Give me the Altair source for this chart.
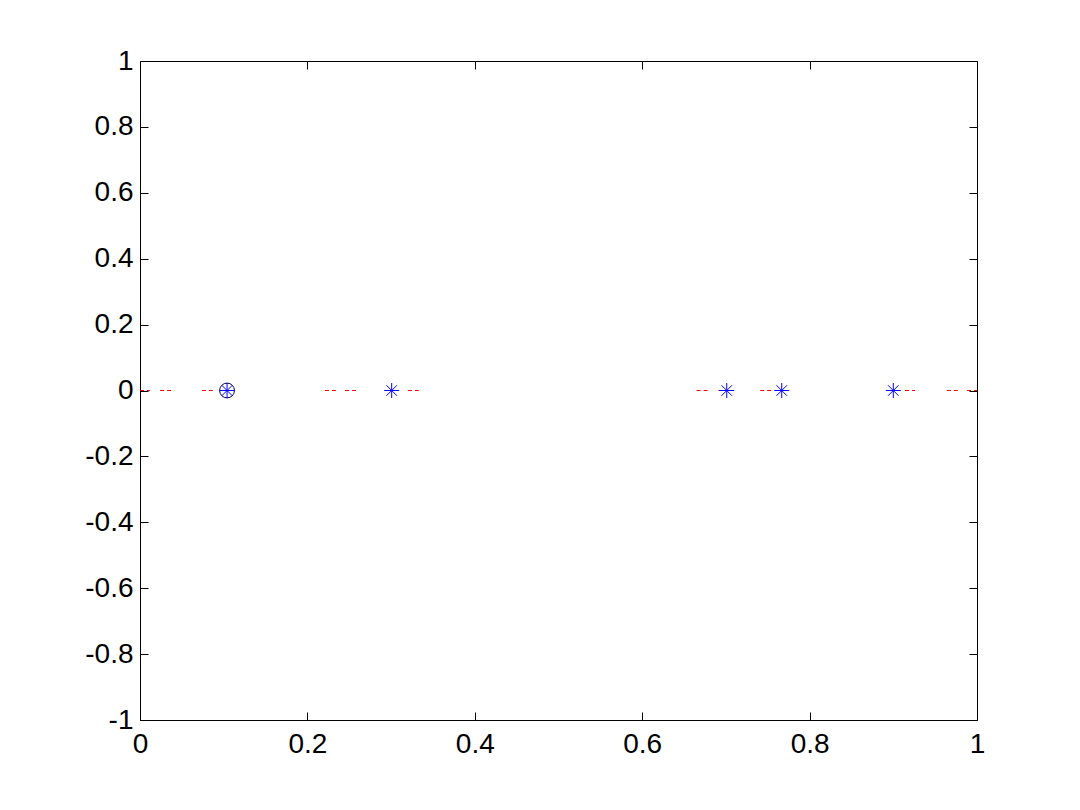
import altair as alt
import pandas as pd

# Red dashed pieces along y = 0 (start, end in data units)
dash_start = [0.000, 0.024, 0.074, 0.221, 0.245, 0.320, 0.665, 0.691, 0.741, 0.914, 0.964, 0.988]
dash_end   = [0.012, 0.038, 0.087, 0.235, 0.259, 0.335, 0.679, 0.697, 0.755, 0.926, 0.977, 1.000]

# Blue asterisk points
star_x = [0.104, 0.3007, 0.701, 0.7667, 0.900]
star_y = [0, 0, 0, 0, 0]

# Circle point
circle_x = [0.104]
circle_y = [0]

x_ticks = [0, 0.2, 0.4, 0.6, 0.8, 1]
y_ticks = [-1, -0.8, -0.6, -0.4, -0.2, 0, 0.2, 0.4, 0.6, 0.8, 1]

dash_df = pd.DataFrame({"x": dash_start, "x2": dash_end, "y": [0] * len(dash_start)})
star_df = pd.DataFrame({"x": star_x, "y": star_y})
circ_df = pd.DataFrame({"x": circle_x, "y": circle_y})

FONT = "Liberation Sans"
FS = 28

xscale = alt.Scale(domain=[0, 1], nice=False, zero=False)
yscale = alt.Scale(domain=[-1, 1], nice=False, zero=False)

def xaxis(orient, labels):
    kw = dict(orient=orient, values=x_ticks, offset=-8, tickSize=8, domain=False,
              grid=False, title=None, tickColor="black", tickWidth=1,
              labels=labels)
    if labels:
        kw.update(labelFont=FONT, labelFontSize=FS, labelColor="black",
                  labelPadding=10, labelExpr="datum.value + ''", labelFlush=False,
                  labelOverlap=False)
    return alt.Axis(**kw)

def yaxis(orient, labels):
    kw = dict(orient=orient, values=y_ticks, offset=-8, tickSize=8, domain=False,
              grid=False, title=None, tickColor="black", tickWidth=1,
              labels=labels)
    if labels:
        kw.update(labelFont=FONT, labelFontSize=FS, labelColor="black",
                  labelPadding=7, labelExpr="datum.value + ''", labelFlush=False,
                  labelOverlap=False)
    return alt.Axis(**kw)

dashes = alt.Chart(dash_df).mark_rule(color="#FF0000", strokeWidth=1, strokeDash=[4, 3]).encode(
    x=alt.X("x:Q", scale=xscale, axis=xaxis("bottom", True)),
    x2="x2:Q",
    y=alt.Y("y:Q", scale=yscale, axis=yaxis("left", True)),
)

# mirrored top/right ticks
top_right = alt.Chart(dash_df).mark_rule(opacity=0).encode(
    x=alt.X("x:Q", scale=xscale, axis=xaxis("top", False)),
    x2="x2:Q",
    y=alt.Y("y:Q", scale=yscale, axis=yaxis("right", False)),
)

star_path = "M-1,0L1,0M0,-1L0,1M-0.7,-0.7L0.7,0.7M-0.7,0.7L0.7,-0.7"
stars = alt.Chart(star_df).mark_point(shape=star_path, size=225, filled=False,
                                       color="#0000FF", strokeWidth=1, opacity=1).encode(
    x=alt.X("x:Q", scale=xscale, axis=None),
    y=alt.Y("y:Q", scale=yscale, axis=None),
)

circles = alt.Chart(circ_df).mark_point(shape="circle", size=220, filled=False,
                                         color="#000066", strokeWidth=1, opacity=1).encode(
    x=alt.X("x:Q", scale=xscale, axis=None),
    y=alt.Y("y:Q", scale=yscale, axis=None),
)

chart = alt.layer(dashes, top_right, stars, circles).resolve_axis(
    x="independent", y="independent"
).properties(
    width=837, height=659,
    background="white",
    autosize=alt.AutoSizeParams(type="none"),
    padding={"left": 132, "top": 53, "right": 95, "bottom": 90},
).configure_view(stroke="black", strokeWidth=1)

chart.save("out.html", embed_options={"renderer": "svg", "actions": False})
